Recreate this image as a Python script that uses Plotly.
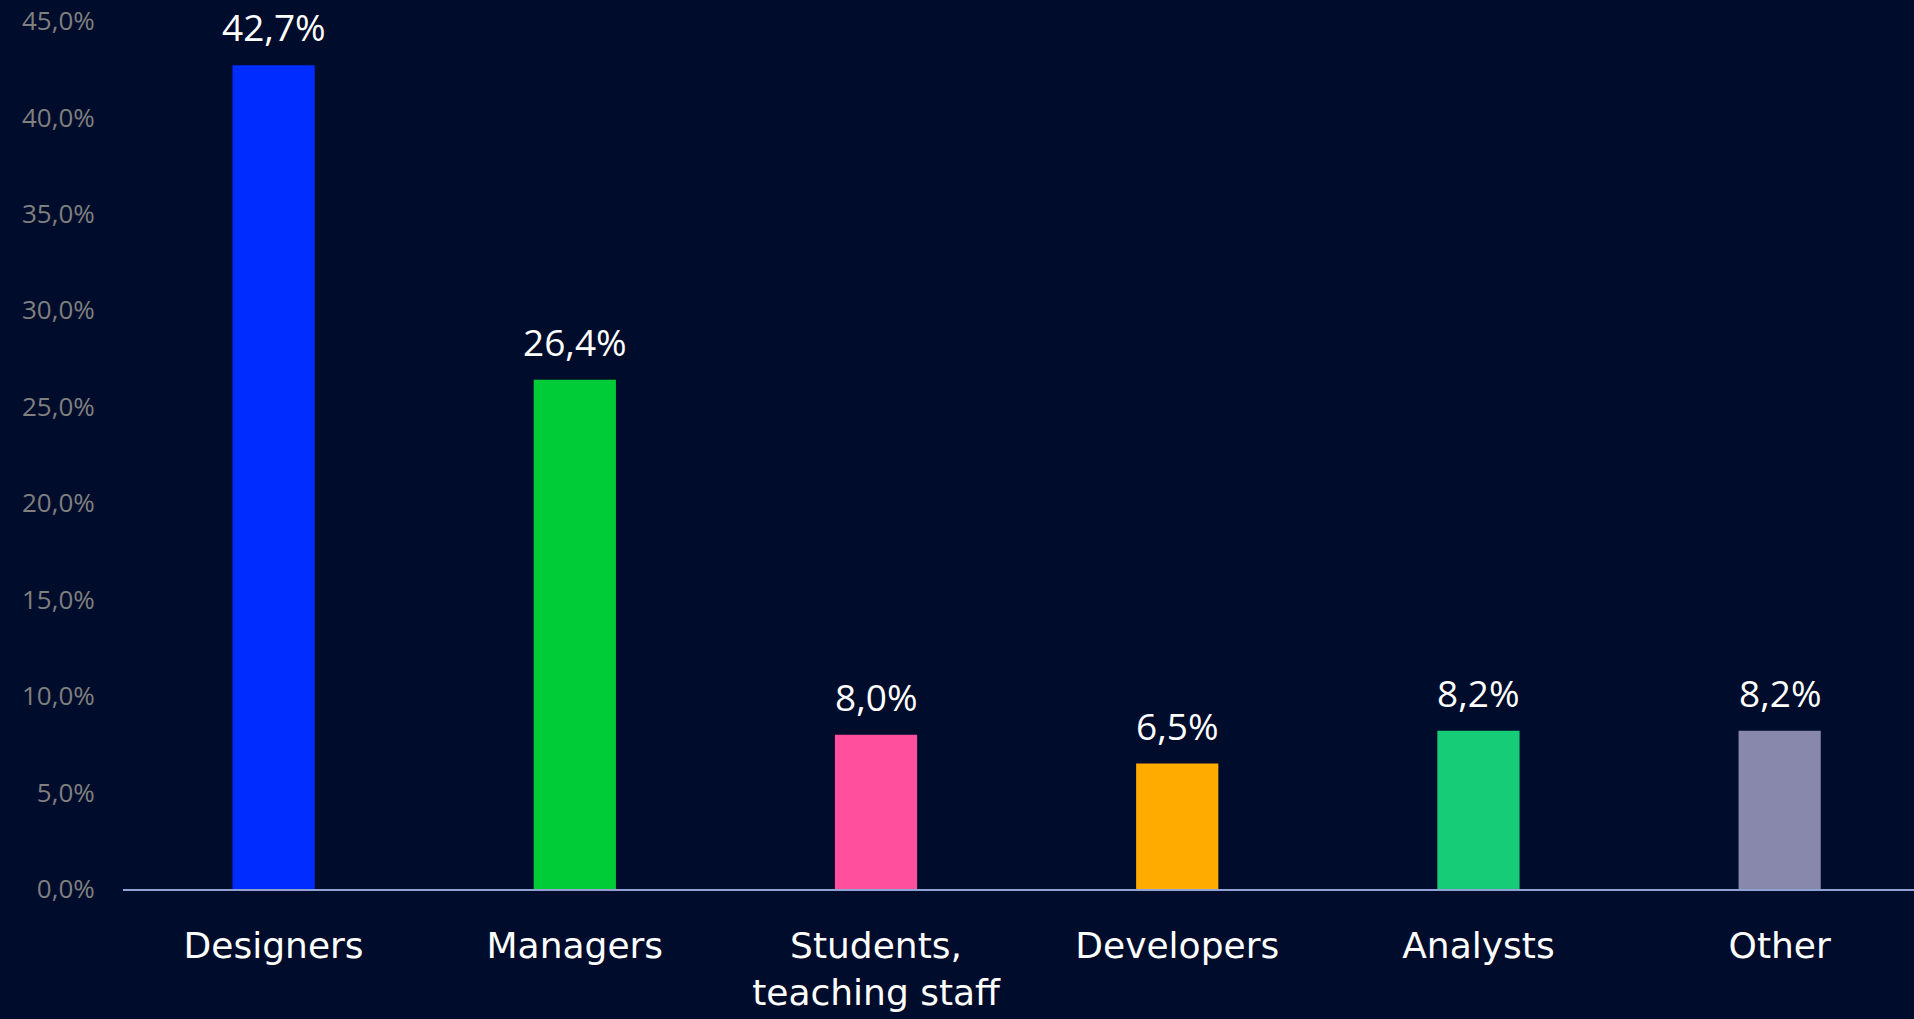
import plotly.graph_objects as go

categories = ["Designers", "Managers", "Students,<br>teaching staff", "Developers", "Analysts", "Other"]
shares = [42.7, 26.4, 8.0, 6.5, 8.2, 8.2]
bar_colors = ["#002cff", "#00cc38", "#ff4f9d", "#ffab00", "#17cc77", "#8888ac"]
y_ticks = [0, 5, 10, 15, 20, 25, 30, 35, 40, 45]
y_tick_text = [f"{v:.1f}%".replace(".", ",") for v in y_ticks]

bg = "#000c2b"

fig = go.Figure(
    go.Bar(
        x=categories,
        y=shares,
        marker=dict(color=bar_colors, line=dict(width=0)),
        width=0.273,
        hoverinfo="x+y",
    )
)

# value labels above the bars
for cat, val in zip(categories, shares):
    fig.add_annotation(
        x=cat, y=val,
        text=f"{val:.1f}%".replace(".", ","),
        showarrow=False,
        yanchor="bottom",
        yshift=11,
        font=dict(family="Open Sans", size=37, color="white"),
    )

fig.update_layout(
    width=1914,
    height=1019,
    paper_bgcolor=bg,
    plot_bgcolor=bg,
    showlegend=False,
    margin=dict(l=123, r=0, t=21, b=130),
    font=dict(family="Open Sans"),
)
fig.update_xaxes(
    range=[-0.5, 5.446],
    showline=True,
    linecolor="#8ea2d4",
    linewidth=2,
    showgrid=False,
    ticks="outside",
    ticklen=24,
    tickcolor=bg,
    tickfont=dict(family="DejaVu Sans", size=36, color="white"),
)
fig.update_yaxes(
    range=[0, 45],
    tickvals=y_ticks,
    ticktext=y_tick_text,
    showgrid=False,
    zeroline=False,
    showline=False,
    ticks="outside",
    ticklen=22,
    tickcolor=bg,
    tickfont=dict(family="Open Sans", size=26, color="#7f7f7f"),
)

fig.write_html(
    "out.html",
    config={"displayModeBar": False},
    post_script="document.body.style.margin='0';document.body.style.overflow='hidden';",
)
